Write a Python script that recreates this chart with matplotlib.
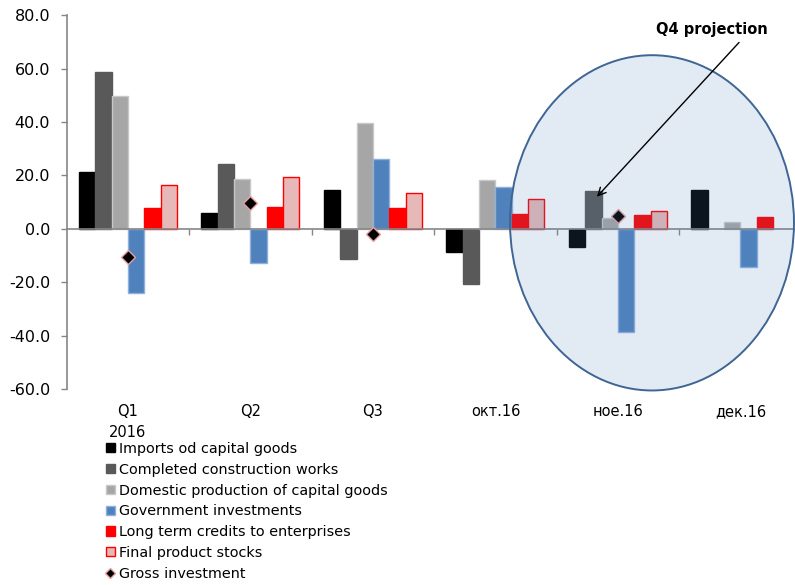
import numpy as np
import matplotlib
matplotlib.use("Agg")
import matplotlib.pyplot as plt
from matplotlib.patches import Ellipse, Patch
from matplotlib.lines import Line2D

plt.rcParams['font.family'] = ['DejaVu Sans']

categories = ['Q1\n2016', 'Q2', 'Q3', 'окт.16', 'ное.16', 'дек.16']

imports = [21.3, 6.1, 14.5, -8.5, -6.9, 14.6]
construction = [58.7, 24.2, -11.3, -20.6, 14.2, np.nan]
domestic = [49.9, 18.5, 39.8, 18.2, 3.9, 2.4]
government = [-24.1, -12.8, 26.3, 15.6, -38.6, -14.4]
credits = [7.7, 8.1, 7.7, 5.7, 5.1, 4.4]
stocks = [16.4, 19.4, 13.6, 11.3, 6.6, np.nan]
gross = [-10.6, 9.7, -2.1, np.nan, 4.7, np.nan]

series = [
    ('Imports od capital goods', imports, '#000000', '#000000'),
    ('Completed construction works', construction, '#595959', '#595959'),
    ('Domestic production of capital goods', domestic, '#a6a6a6', '#c8c8c8'),
    ('Government investments', government, '#4f81bd', '#8fb0dc'),
    ('Long term credits to enterprises', credits, '#ff0000', '#ff0000'),
    ('Final product stocks', stocks, '#e6b9b8', '#ff0000'),
]

fig = plt.figure(figsize=(7.95, 5.85), dpi=100)
ax = fig.add_axes([66.7 / 795, 1 - 389 / 585, 735 / 795, (389 - 15.3) / 585])

x = np.arange(len(categories))
w = 0.8 / len(series)
handles = []
for k, (name, vals, fc, ec) in enumerate(series):
    ax.bar(x + (k - 2.5) * w, vals, width=w, color=fc, edgecolor=ec,
           linewidth=1.0, zorder=2)
    handles.append(Patch(facecolor=fc, edgecolor=ec, linewidth=1.0, label=name))

ax.plot(x, gross, linestyle='none', marker='D', markersize=7,
        markerfacecolor='black', markeredgecolor='#e6a0a0', markeredgewidth=1.0,
        zorder=4)
handles.append(Line2D([], [], linestyle='none', marker='D', markersize=5,
                      markerfacecolor='black', markeredgecolor='#e6a0a0',
                      label='Gross investment'))

# Q4 highlight
ell = Ellipse((4.278, 2.25), 2.318, 125.6, facecolor=(0.31, 0.506, 0.741, 0.16),
              edgecolor='#3f6594', linewidth=1.4, zorder=5, clip_on=False)
ax.add_patch(ell)

ax.annotate('', xy=(3.813, 11.25), xytext=(5.004, 70.6),
            arrowprops=dict(arrowstyle='->', color='black', lw=1.0,
                            mutation_scale=14), zorder=6)
ax.text(4.765, 74.6, 'Q4 projection', ha='center', va='center',
        fontsize=10.5, fontweight='bold', zorder=6)

ax.set_xlim(-0.5, len(categories) - 0.5)
ax.set_ylim(-60, 80)
ax.set_yticks(np.arange(-60, 81, 20))
ax.set_yticklabels([f'{v:.1f}' for v in np.arange(-60, 81, 20)])

for s in ['top', 'right']:
    ax.spines[s].set_visible(False)
ax.spines['left'].set_color('#868686')
ax.spines['left'].set_linewidth(1.2)
ax.spines['bottom'].set_position(('data', 0))
ax.spines['bottom'].set_color('#868686')
ax.spines['bottom'].set_linewidth(1.2)
ax.spines['bottom'].set_zorder(3)

ax.set_xticks([])
ax.set_xticks(np.arange(0.5, len(categories) - 0.5), minor=True)
ax.tick_params(axis='x', which='minor', length=4, color='#868686', width=1.0)
ax.tick_params(axis='y', length=4, color='#868686', width=1.0, pad=8,
               labelsize=11.5)

sec = ax.secondary_xaxis(0.0)
sec.spines['bottom'].set_visible(False)
sec.set_xticks(x)
sec.set_xticklabels(categories, fontsize=10.5, linespacing=1.45)
sec.tick_params(axis='x', length=0, pad=11)

fig.legend(handles=handles, loc='upper left', bbox_to_anchor=(106 / 795, 1 - 442 / 585),
           frameon=False, fontsize=10.4, handlelength=0.6, handleheight=0.6,
           handletextpad=0.3, labelspacing=0.47, borderaxespad=0, borderpad=0)

fig.savefig('out.png', dpi=100)
